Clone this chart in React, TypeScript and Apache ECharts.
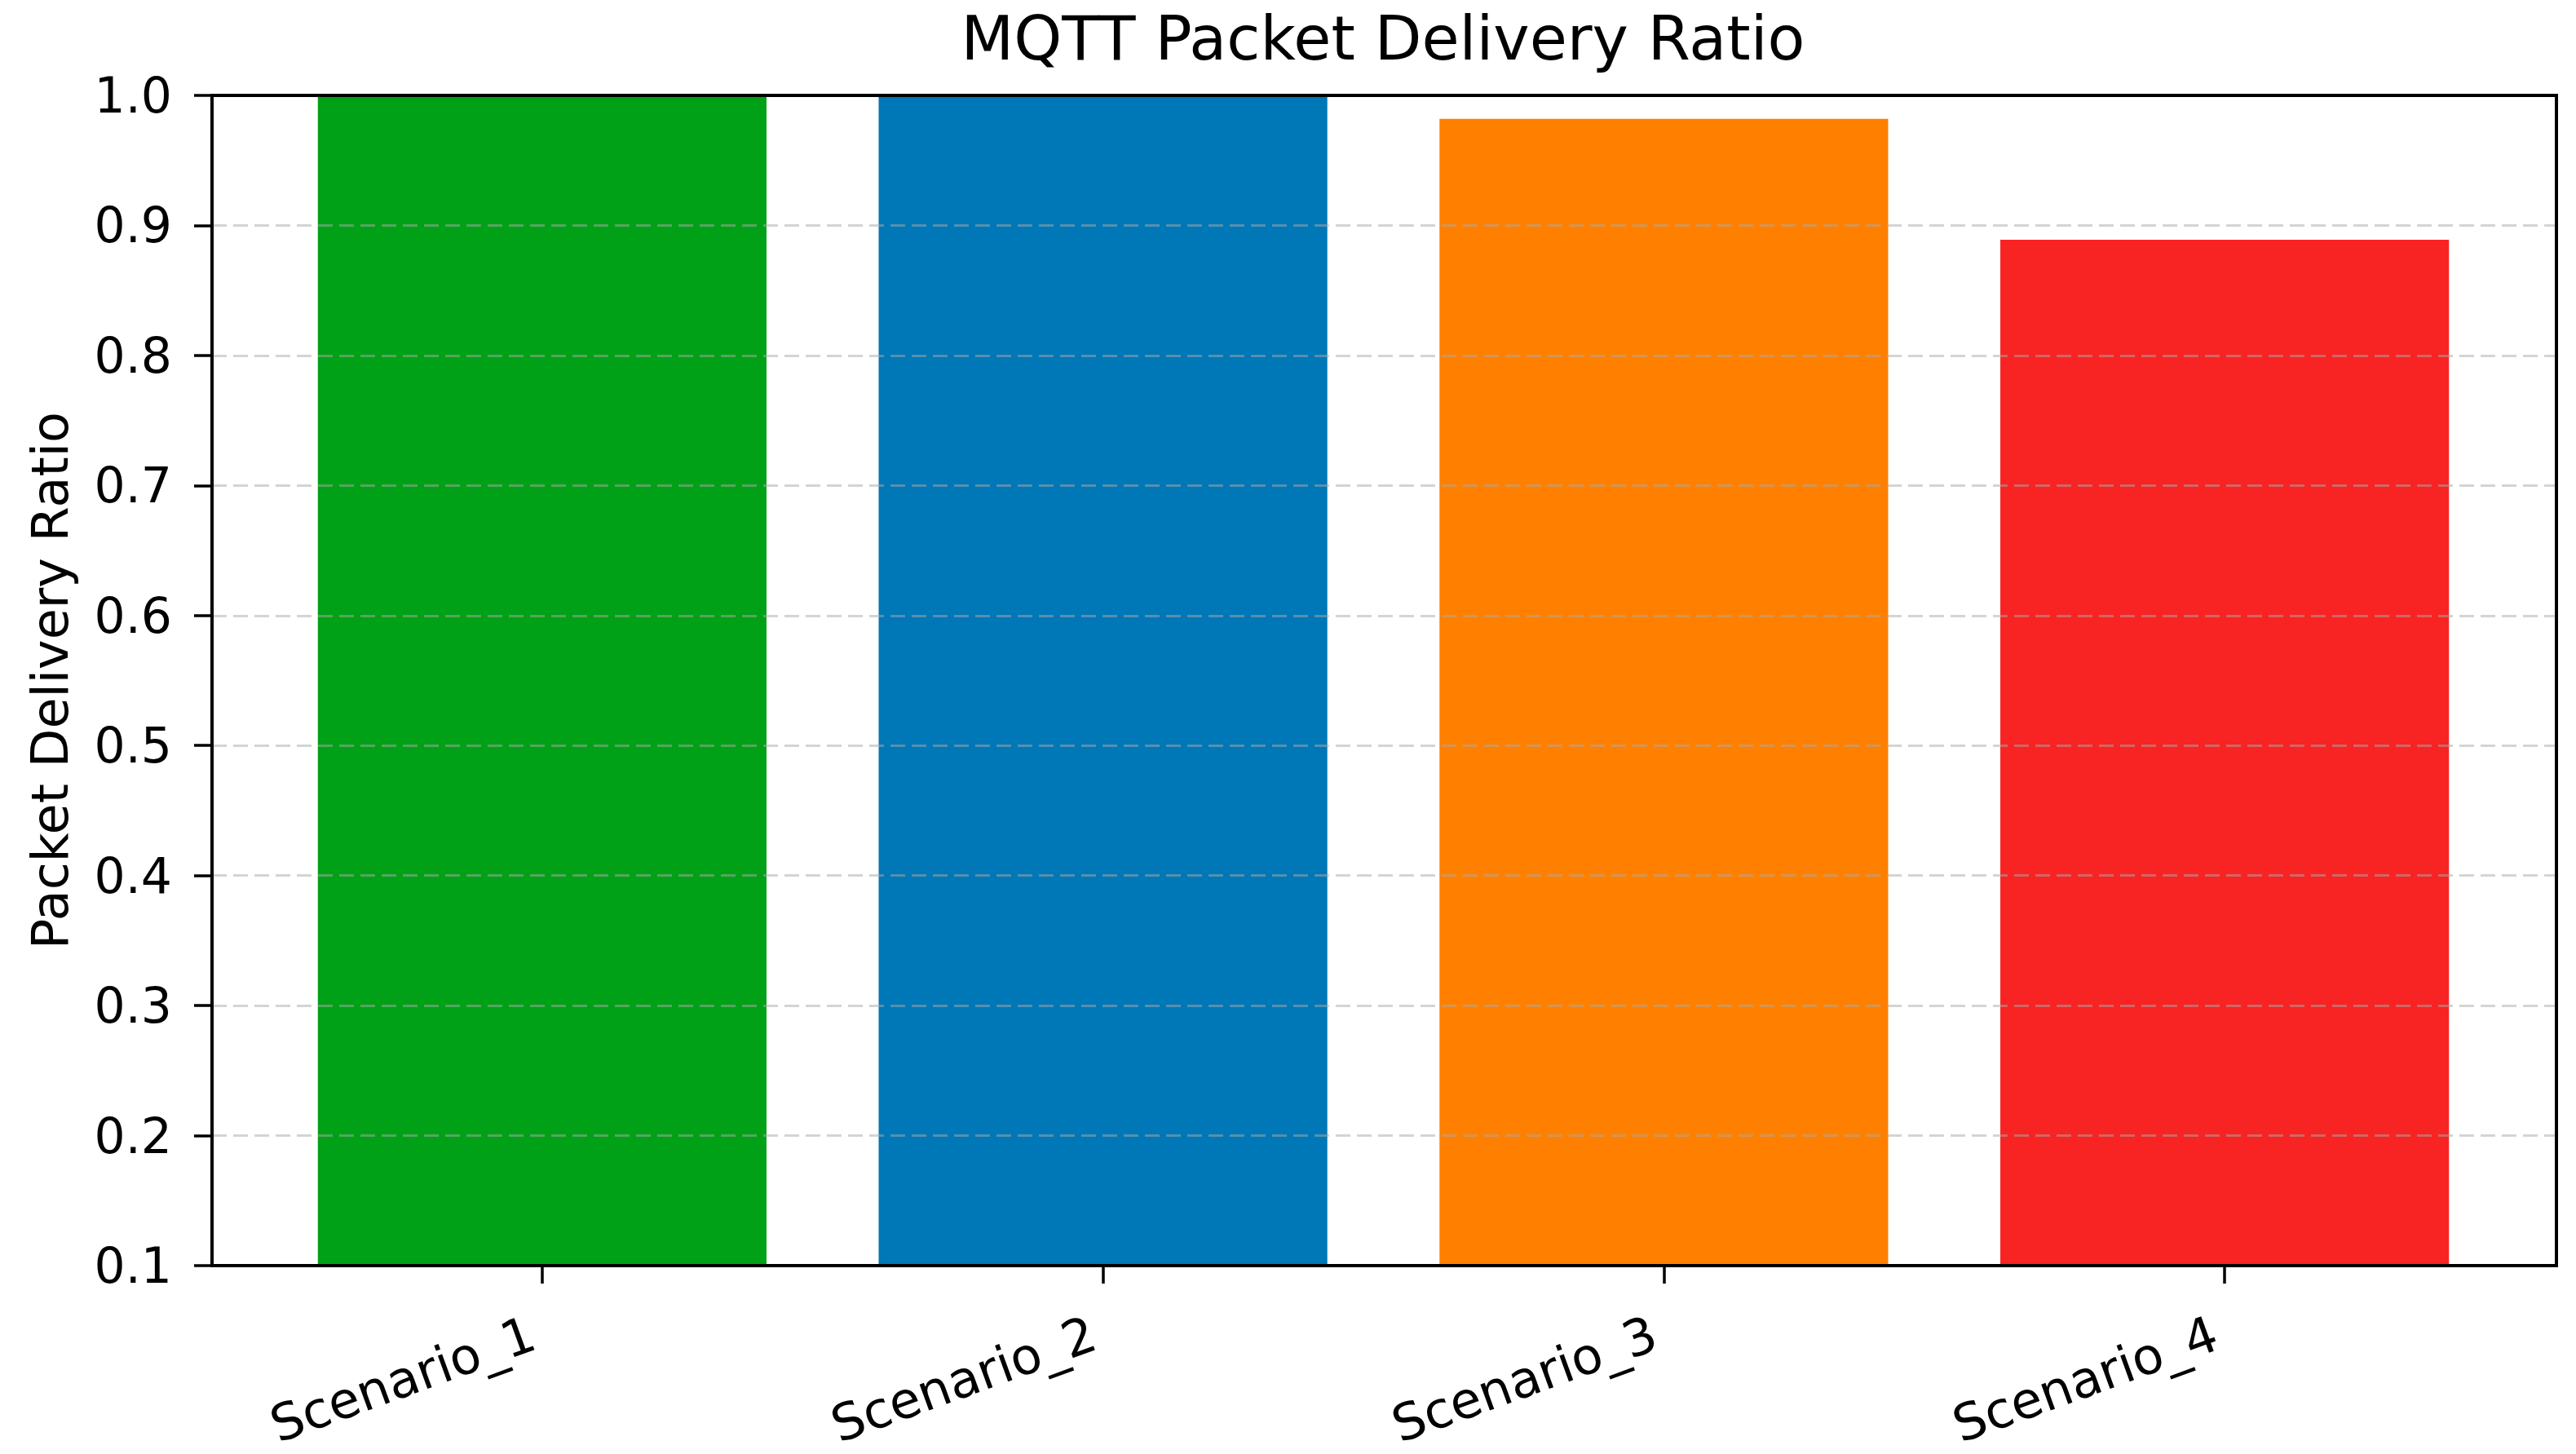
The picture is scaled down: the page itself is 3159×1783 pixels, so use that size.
import React, { useEffect, useRef } from "react";
import * as echarts from "echarts";

const categories = ["Scenario_1", "Scenario_2", "Scenario_3", "Scenario_4"];
const ratios = [1.0, 1.0, 0.982, 0.889];
const barColors = ["#00a116", "#0077b6", "#ff8000", "#f82323"];
const titleText = "MQTT Packet Delivery Ratio";
const yAxisName = "Packet Delivery Ratio";
const yMin = 0.1;
const yMax = 1.0;
const yStep = 0.1;

const FONT = "DejaVu Sans";

export default function App() {
  const ref = useRef<HTMLDivElement>(null);
  useEffect(() => {
    if (!ref.current) return;
    const chart = echarts.init(ref.current, undefined, { renderer: "svg" });
    const frame = { left: 260, top: 117, right: 24, bottom: 231 };
    const inner = { left: 321, top: 117, right: 87, bottom: 231 };
    chart.setOption({
      animation: false,
      backgroundColor: "#ffffff",
      title: {
        text: titleText,
        left: 1696,
        top: 9,
        textAlign: "center",
        padding: 0,
        textStyle: { fontFamily: FONT, fontSize: 75, fontWeight: "normal", color: "#000" },
      },
      grid: [
        { ...frame, show: true, borderColor: "#000", borderWidth: 4, backgroundColor: "transparent", z: 6 },
        { ...inner, show: false },
      ],
      xAxis: [
        { gridIndex: 0, type: "value", min: 0, max: 1, show: false },
        {
          gridIndex: 1,
          type: "category",
          data: categories,
          boundaryGap: true,
          axisLine: { show: false },
          axisTick: { show: true, alignWithLabel: true, length: 22, lineStyle: { color: "#000", width: 3.5 } },
          axisLabel: {
            rotate: 20,
            margin: 77,
            padding: [0, 12, 0, 0],
            fontFamily: FONT,
            fontSize: 62,
            color: "#000",
            interval: 0,
          },
          splitLine: { show: false },
        },
      ],
      yAxis: [
        {
          gridIndex: 0,
          type: "value",
          min: yMin,
          max: yMax,
          interval: yStep,
          z: 4,
          name: yAxisName,
          nameLocation: "middle",
          nameRotate: 90,
          nameGap: 168,
          nameTextStyle: { fontFamily: FONT, fontSize: 62, color: "#000" },
          axisLine: { show: false },
          axisTick: { show: true, length: 22, lineStyle: { color: "#000", width: 3.5 } },
          axisLabel: {
            margin: 49,
            fontFamily: FONT,
            fontSize: 60,
            color: "#000",
            formatter: (v: number) => v.toFixed(1),
          },
          splitLine: {
            show: true,
            lineStyle: { color: "rgba(170,170,170,0.5)", width: 3, type: [18, 8] },
          },
        },
        { gridIndex: 1, type: "value", min: yMin, max: yMax, show: false, splitLine: { show: false } },
      ],
      series: [
        {
          type: "bar",
          xAxisIndex: 1,
          yAxisIndex: 1,
          barWidth: "80%",
          clip: true,
          z: 2,
          data: ratios.map((v, i) => ({ value: v, itemStyle: { color: barColors[i] } })),
        },
      ],
    });
    return () => chart.dispose();
  }, []);
  return (
    <div
      ref={ref}
      style={{ position: "fixed", left: 0, top: 0, width: 3159, height: 1783, background: "#fff" }}
    />
  );
}
